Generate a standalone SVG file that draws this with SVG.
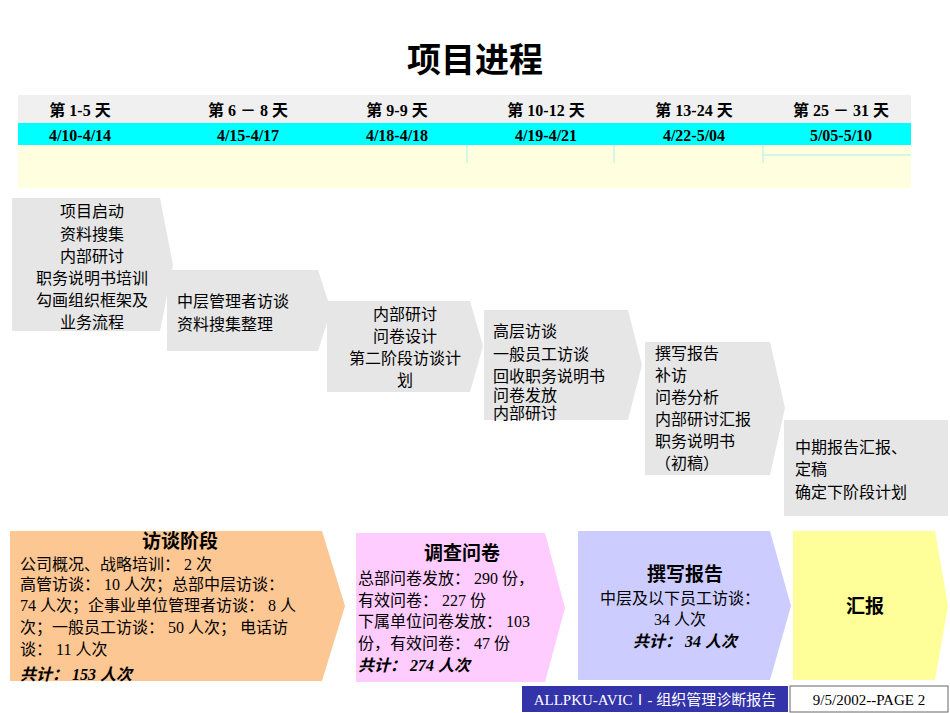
<svg xmlns="http://www.w3.org/2000/svg" width="950" height="713" viewBox="0 0 950 713">
<style>
text{font-family:"Liberation Serif","Noto Sans CJK SC",serif;fill:#000}
.h{font-size:16px;font-weight:bold;text-anchor:middle}
.g{fill:#e6e6e6}
.t{font-size:16px}
.c{text-anchor:middle}
</style>
<rect width="950" height="713" fill="#fff"/>
<text x="475" y="72" font-size="34" font-weight="bold" text-anchor="middle">项目进程</text>
<g id="header">
<rect x="18" y="95" width="893" height="28" fill="#f0f0f0"/>
<rect x="18" y="123" width="893" height="22" fill="#00ffff"/>
<rect x="18" y="145" width="893" height="43" fill="#ffffe0"/>
<g stroke="#aaeeee" stroke-width="1"><line x1="467" y1="145" x2="467" y2="163"/><line x1="614" y1="145" x2="614" y2="163"/><line x1="763" y1="145" x2="763" y2="163"/><line x1="763" y1="155" x2="911" y2="155"/></g>
<g class="h"><text x="80" y="116">第 1-5 天</text><text x="248" y="116">第 6 － 8 天</text><text x="397" y="116">第 9-9 天</text><text x="546" y="116">第 10-12 天</text><text x="694" y="116">第 13-24 天</text><text x="841" y="116">第 25 － 31 天</text>
<text x="80" y="141">4/10-4/14</text><text x="248" y="141">4/15-4/17</text><text x="397" y="141">4/18-4/18</text><text x="546" y="141">4/19-4/21</text><text x="694" y="141">4/22-5/04</text><text x="841" y="141">5/05-5/10</text></g>
</g>
<g id="s1"><polygon class="g" points="12,198 160,198 173,265 160,331 12,331"/>
<text class="t c" x="92" y="217">项目启动</text><text class="t c" x="92" y="240">资料搜集</text><text class="t c" x="92" y="262">内部研讨</text><text class="t c" x="92" y="284">职务说明书培训</text><text class="t c" x="92" y="306">勾画组织框架及</text><text class="t c" x="92" y="328">业务流程</text></g>
<g id="s2"><polygon class="g" points="167,270 318,270 331,310 318,351 167,351"/>
<text class="t" x="177" y="307">中层管理者访谈</text><text class="t" x="177" y="330">资料搜集整理</text></g>
<g id="s3"><polygon class="g" points="327,301 470,301 483,346 470,392 327,392"/>
<text class="t c" x="405" y="320">内部研讨</text><text class="t c" x="405" y="342">问卷设计</text><text class="t c" x="405" y="364">第二阶段访谈计</text><text class="t c" x="405" y="386">划</text></g>
<g id="s4"><polygon class="g" points="484,310 628,310 642,365 628,420 484,420"/>
<text class="t" x="493" y="337">高层访谈</text><text class="t" x="493" y="360">一般员工访谈</text><text class="t" x="493" y="382">回收职务说明书</text><text class="t" x="493" y="401">问卷发放</text><text class="t" x="493" y="419">内部研讨</text></g>
<g id="s5"><polygon class="g" points="645,342 770,342 785,408 770,475 645,475"/>
<text class="t" x="655" y="359">撰写报告</text><text class="t" x="655" y="381">补访</text><text class="t" x="655" y="403">问卷分析</text><text class="t" x="655" y="425">内部研讨汇报</text><text class="t" x="655" y="447">职务说明书</text><text class="t" x="655" y="469">（初稿）</text></g>
<g id="s6"><polygon class="g" points="784,420 948,420 948,516 784,516"/>
<text class="t" x="795" y="453">中期报告汇报、</text><text class="t" x="795" y="475">定稿</text><text class="t" x="795" y="498">确定下阶段计划</text></g>
<g id="b1"><polygon fill="#fdc794" points="10,531 322,531 345,606 322,681 10,681"/>
<text x="180" y="548" font-size="19" font-weight="bold" text-anchor="middle">访谈阶段</text>
<text class="t" x="20" y="570">公司概况、战略培训： 2 次</text><text class="t" x="20" y="590">高管访谈： 10 人次；总部中层访谈：</text><text class="t" x="20" y="611">74 人次；企事业单位管理者访谈： 8 人</text><text class="t" x="20" y="633">次；一般员工访谈： 50 人次；  电话访</text><text class="t" x="20" y="655">谈： 11 人次</text>
<text class="t" x="20" y="680" font-weight="bold" font-style="italic">共计： 153 人次</text></g>
<g id="b2"><polygon fill="#ffccff" points="356,533 545,533 565,608 545,682 356,682"/>
<text x="462" y="560" font-size="19" font-weight="bold" text-anchor="middle">调查问卷</text>
<text class="t" x="358" y="584">总部问卷发放： 290 份，</text><text class="t" x="358" y="606">有效问卷： 227 份</text><text class="t" x="358" y="627">下属单位问卷发放： 103</text><text class="t" x="358" y="649">份，有效问卷： 47 份</text>
<text class="t" x="358" y="671" font-weight="bold" font-style="italic">共计： 274 人次</text></g>
<g id="b3"><polygon fill="#ccccff" points="578,531 770,531 791,606 770,680 578,680"/>
<text x="685" y="581" font-size="19" font-weight="bold" text-anchor="middle">撰写报告</text>
<text class="t c" x="680" y="604">中层及以下员工访谈：</text><text class="t c" x="680" y="625">34 人次</text>
<text class="t c" x="685" y="647" font-weight="bold" font-style="italic">共计： 34 人次</text></g>
<g id="b4"><polygon fill="#ffff99" points="793,531 935,531 948,606 935,680 793,680"/>
<text x="865" y="613" font-size="19" font-weight="bold" text-anchor="middle">汇报</text></g>
<g id="footer">
<rect x="522" y="686" width="266" height="26" fill="#3333aa"/>
<text x="655" y="705" font-size="15" text-anchor="middle" style="fill:#fff">ALLPKU-AVICⅠ- 组织管理诊断报告</text>
<rect x="790" y="686" width="158" height="26" fill="#fff" stroke="#666"/>
<text x="869" y="705" font-size="15" text-anchor="middle">9/5/2002--PAGE 2</text>
</g>
<g id="connectors"/>
</svg>
